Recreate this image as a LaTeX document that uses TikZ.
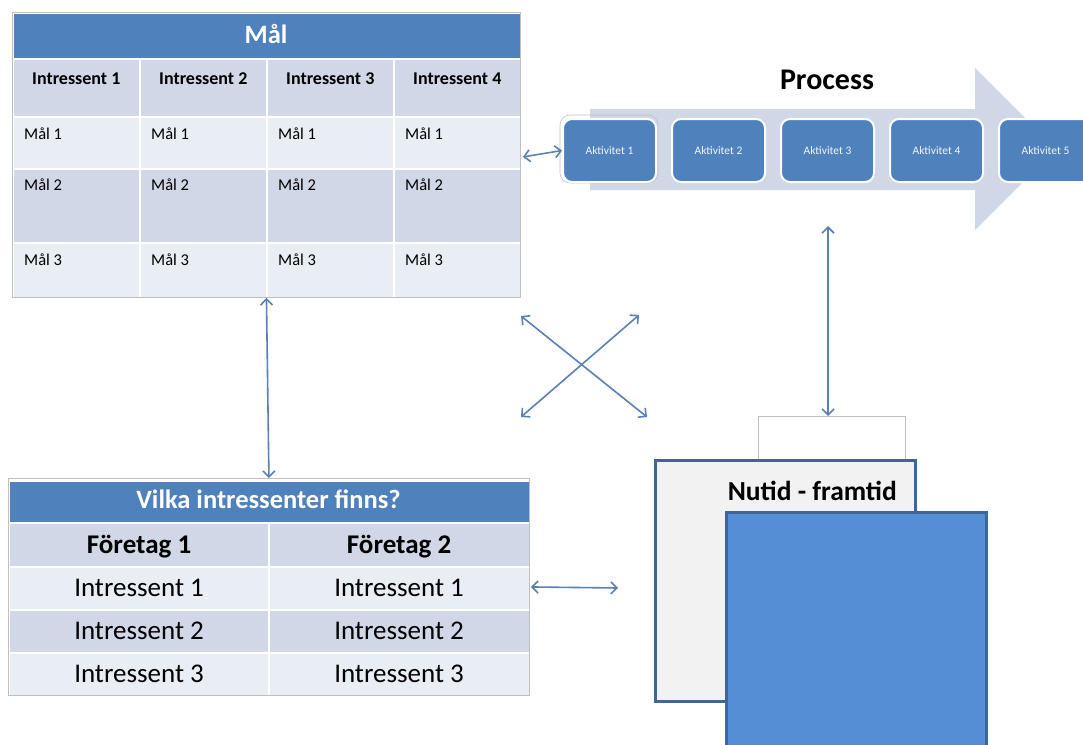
\documentclass[tikz,border=0pt]{standalone}
\usepackage{fontspec}
\setmainfont{Carlito}
\usetikzlibrary{arrows.meta}

\definecolor{hdrblue}{HTML}{4F81BD}
\definecolor{rowdark}{HTML}{D0D8E8}
\definecolor{rowlight}{HTML}{E9EDF4}
\definecolor{linkblue}{HTML}{5B80B2}
\definecolor{boxedge}{HTML}{3F6698}
\definecolor{boxblue}{HTML}{558ED5}
\definecolor{paper}{HTML}{F2F2F2}
\definecolor{framegray}{HTML}{BFBFBF}

\tikzset{
  cell/.style={draw=white, line width=1.6pt, inner sep=0pt, anchor=north west},
  tframe/.style={draw=framegray, line width=0.9pt},
  hdrtext/.style={text=white, font=\bfseries\fontsize{26.5}{30}\selectfont, anchor=base, inner sep=0pt},
  colhead/.style={font=\bfseries\fontsize{18}{21}\selectfont, anchor=base, inner sep=0pt},
  goaltext/.style={font=\fontsize{16.5}{20}\selectfont, anchor=base west, inner sep=0pt},
  bigtext/.style={font=\fontsize{27}{31}\selectfont, anchor=base, inner sep=0pt},
  bigbold/.style={font=\bfseries\fontsize{27}{31}\selectfont, anchor=base, inner sep=0pt},
  actbox/.style={draw=white, line width=2pt, fill=hdrblue, rounded corners=9pt,
    minimum width=93pt, minimum height=63pt, inner sep=0pt, anchor=north west,
    text=white!92!hdrblue, font=\fontsize{11.5}{13}\selectfont},
  link/.style={draw=linkblue, line width=1.6pt,
    {Straight Barb[length=6pt,width=12pt]}-{Straight Barb[length=6pt,width=12pt]}},
  panel/.style={draw=boxedge, line width=2.8pt, inner sep=0pt, anchor=north west}
}

\begin{document}
\begin{tikzpicture}[x=1pt, y=-1pt]
\useasboundingbox (0,0) rectangle (1083,744);

% ---------- goals table ----------
\node[cell, fill=hdrblue, minimum width=508pt, minimum height=46pt] (malhdr) at (12,12) {};
\node[hdrtext] (maltitle) at (266,43) {Mål};
\foreach \x [count=\i] in {12,139,266,393} {
  \node[cell, fill=rowdark,  minimum width=127pt, minimum height=58pt] (mh\i) at (\x,58) {};
  \node[cell, fill=rowlight, minimum width=127pt, minimum height=52pt] (ma\i) at (\x,116) {};
  \node[cell, fill=rowdark,  minimum width=127pt, minimum height=74pt] (mb\i) at (\x,168) {};
  \node[cell, fill=rowlight, minimum width=127pt, minimum height=55pt] (mc\i) at (\x,242) {};
  \node[colhead]  (mht\i) at ([yshift=-26pt]mh\i.north) {Intressent \i};
  \node[goaltext] (mat\i) at ([xshift=12pt,yshift=-23pt]ma\i.north west) {Mål 1};
  \node[goaltext] (mbt\i) at ([xshift=12pt,yshift=-22pt]mb\i.north west) {Mål 2};
  \node[goaltext] (mct\i) at ([xshift=12pt,yshift=-23pt]mc\i.north west) {Mål 3};
}
\node[tframe, inner sep=0pt, minimum width=508pt, minimum height=285pt, anchor=north west] (mal) at (12,12) {};

% ---------- process arrow ----------
\fill[rowdark] (590,109) -- (975,109) -- (975,68) -- (1056,149) -- (975,230)
  -- (975,190) -- (590,190) -- cycle;
\coordinate (procbottom) at (828,230);
\node[font=\bfseries\fontsize{30}{34}\selectfont, anchor=base, inner sep=0pt] (proctitle) at (827,89) {Process};
\draw[framegray, line width=0.6pt, rounded corners=10pt] (560,115) rectangle (658,183);
\foreach \x [count=\i] in {562,671,780,889,998} {
  \node[actbox] (act\i) at (\x,118) {Aktivitet \i};
}

% ---------- stakeholder table ----------
\node[cell, fill=hdrblue, minimum width=521pt, minimum height=42pt] (vhdr) at (8,480) {};
\node[hdrtext] (vtitle) at (268.5,508) {Vilka intressenter finns?};
\foreach \x [count=\i] in {8,268} {
  \node[cell, fill=rowdark,  minimum width=260.5pt, minimum height=44pt] (vf\i) at (\x,522) {};
  \node[cell, fill=rowlight, minimum width=260.5pt, minimum height=43pt] (va\i) at (\x,566) {};
  \node[cell, fill=rowdark,  minimum width=260.5pt, minimum height=43pt] (vb\i) at (\x,609) {};
  \node[cell, fill=rowlight, minimum width=260.5pt, minimum height=43pt] (vc\i) at (\x,652) {};
  \node[bigbold] (vft\i) at ([yshift=-31pt]vf\i.north) {Företag \i};
  \node[bigtext] (vat\i) at ([yshift=-30pt]va\i.north) {Intressent 1};
  \node[bigtext] (vbt\i) at ([yshift=-30pt]vb\i.north) {Intressent 2};
  \node[bigtext] (vct\i) at ([yshift=-30pt]vc\i.north) {Intressent 3};
}
\node[tframe, inner sep=0pt, minimum width=521pt, minimum height=217pt, anchor=north west] (vilka) at (8,478) {};

% ---------- present / future panels ----------
\node[draw=framegray, line width=0.8pt, fill=white, inner sep=0pt,
  minimum width=147pt, minimum height=60pt, anchor=north west] (gap) at (758,416) {};
\node[panel, fill=paper, minimum width=260pt, minimum height=241pt] (nutid) at (654,459) {};
\node[font=\bfseries\fontsize{27.5}{31}\selectfont, anchor=base east, inner sep=0pt] (nutidtxt) at (897,500) {Nutid - framtid};
\node[panel, fill=boxblue, minimum width=260pt, minimum height=260pt] (future) at (725,511) {};

% ---------- connectors ----------
\draw[link] ([xshift=2pt,yshift=-2pt]mal.east) -- (act1.west);
\draw[link] (mal.south) -- (vilka.north);
\coordinate (vright) at (618,588);
\draw[link] ([xshift=1pt]vilka.east) -- (vright);
\draw[link] ([yshift=4pt]procbottom) -- (procbottom |- gap.north);
\coordinate (xa) at (521,316);
\coordinate (xb) at (647,417);
\coordinate (xc) at (639,315);
\coordinate (xd) at (521,417);
\draw[link] (xa) -- (xb);
\draw[link] (xc) -- (xd);
\end{tikzpicture}
\end{document}
